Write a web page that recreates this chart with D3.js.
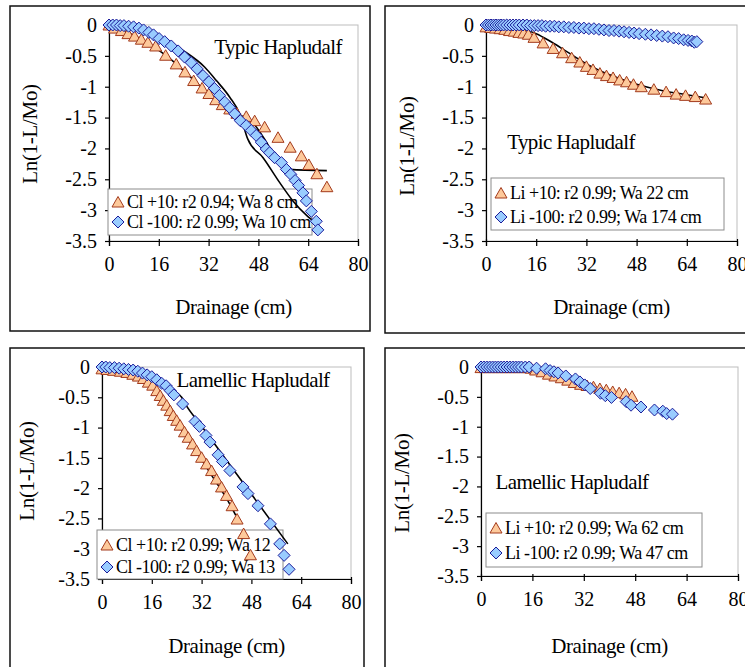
<!DOCTYPE html>
<html>
<head>
<meta charset="utf-8">
<script src="https://cdn.jsdelivr.net/npm/d3@7"></script>
<style>
  body { margin: 0; background: #fff; }
  svg { display: block; font-family: "Liberation Serif", "Times New Roman", serif; }
</style>
</head>
<body>
<svg id="chart" width="745" height="667"></svg>
<script>
// ---- data: [drainage cm, ln(1-L/Mo)] ----
var xTicks = [0, 16, 32, 48, 64, 80];
var yTicks = [0, -0.5, -1, -1.5, -2, -2.5, -3, -3.5];

// Typic Hapludalf, Cl
var typicCl10 = [[0,0],[1.8,-0.05],[4,-0.09],[6.1,-0.14],[8.2,-0.18],[10.4,-0.23],[12.5,-0.28],[15,-0.34],
  [18.2,-0.49],[21.6,-0.63],[24.4,-0.76],[27.2,-0.9],[29.9,-1.02],[32.1,-1.11],[34.3,-1.21],[36.4,-1.29],
  [38.8,-1.36],[41.1,-1.43],[44.1,-1.48],[46.8,-1.55],[50,-1.65],[54.3,-1.82],[58.2,-1.98],[61.8,-2.12],
  [64.2,-2.26],[66.8,-2.41],[70,-2.62]];
var typicCl100 = [[0,0],[1.2,0],[2.4,0],[3.6,-0.01],[4.8,-0.01],[6.3,-0.02],[7.9,-0.03],[9.6,-0.05],[11.1,-0.08],
  [12.8,-0.12],[14.3,-0.16],[16.1,-0.22],[17.9,-0.27],[20,-0.34],[22.2,-0.42],[24.3,-0.52],[26.4,-0.61],
  [28.3,-0.71],[30.2,-0.82],[32.1,-0.92],[33.9,-1.03],[35.5,-1.14],[37.2,-1.25],[38.8,-1.34],[40.4,-1.44],
  [42.2,-1.55],[44.1,-1.63],[45.7,-1.71],[47.3,-1.79],[48.9,-1.9],[50.5,-2.01],[51.6,-2.07],[53.2,-2.15],
  [55.4,-2.23],[57,-2.34],[58.4,-2.42],[59.8,-2.52],[60.9,-2.6],[62.3,-2.72],[63.4,-2.85],[65,-3.02],
  [66.6,-3.18],[67.1,-3.32]];
var typicCl10Fit = [[0,0],[10.4,-0.23],[18.2,-0.49],[24.4,-0.76],[29.9,-1.02],[36.4,-1.29],[41.1,-1.43],
  [46.8,-1.62],[50,-1.85],[53,-2.1],[56,-2.28],[58,-2.34],[70,-2.36]];
var typicCl100Fit = [[0,0],[8,-0.04],[16,-0.19],[24,-0.42],[30.7,-0.68],[34.5,-0.9],[38.8,-1.17],[42,-1.44],
  [44.6,-1.85],[49.5,-2.15],[54.8,-2.55],[59.1,-2.85],[63.4,-3.08],[67.1,-3.23]];

// Typic Hapludalf, Li
var typicLi10 = [[0,-0.03],[1.5,-0.04],[3,-0.05],[4.5,-0.06],[6,-0.07],[7.5,-0.09],[9,-0.1],[10.5,-0.12],
  [12,-0.13],[13.5,-0.15],[15.3,-0.2],[18.2,-0.29],[21.4,-0.38],[24.4,-0.45],[27.3,-0.53],[29.9,-0.6],
  [32,-0.67],[34.1,-0.72],[36.3,-0.78],[38.4,-0.82],[40.5,-0.85],[42.6,-0.89],[44.8,-0.92],[47,-0.96],
  [49.5,-1.0],[53.5,-1.04],[57.4,-1.08],[60.6,-1.12],[63.6,-1.14],[66.7,-1.16],[70,-1.2]];
var typicLi100 = [[0,0],[0.8,0],[1.6,0],[2.4,0],[3.2,0],[4,0],[4.8,0],[5.6,0],[6.6,0],[7.6,0],[8.6,0],[9.6,0],
  [10.6,0],[11.8,0],[13,0],[14.2,-0.01],[15.4,-0.01],[16.6,-0.01],[17.8,-0.01],[19,-0.02],[20.4,-0.02],
  [21.8,-0.02],[23.2,-0.03],[24.8,-0.03],[26.4,-0.04],[28,-0.04],[29.6,-0.05],[31.2,-0.05],[32.8,-0.06],
  [34.4,-0.06],[36,-0.07],[37.6,-0.08],[39.2,-0.09],[40.8,-0.09],[42.4,-0.1],[44,-0.11],[45.6,-0.12],
  [47.2,-0.13],[48.8,-0.14],[50.8,-0.15],[52.6,-0.16],[54.4,-0.17],[56.2,-0.18],[58,-0.19],[59.8,-0.21],
  [61.4,-0.22],[63,-0.24],[64.4,-0.25],[65.6,-0.26],[66.4,-0.28],[67.2,-0.27]];
var typicLi10Fit = [[0,-0.01],[10,-0.06],[16,-0.14],[21,-0.28],[26,-0.44],[32,-0.63],[40,-0.82],[48,-0.96],
  [56,-1.06],[64,-1.13],[70,-1.18]];

// Lamellic Hapludalf, Cl
var lamCl10 = [[0,-0.03],[1.6,-0.04],[3.7,-0.055],[5.9,-0.07],[8,-0.09],[9.9,-0.12],[11.7,-0.15],[13.3,-0.19],
  [14.9,-0.25],[16.3,-0.3],[17.6,-0.39],[18.7,-0.47],[19.7,-0.55],[20.8,-0.63],[21.9,-0.72],[22.9,-0.8],
  [24,-0.88],[25.1,-0.96],[26.5,-1.07],[27.7,-1.16],[29.1,-1.27],[30.4,-1.38],[32,-1.49],[33.6,-1.6],
  [35.2,-1.71],[36.8,-1.85],[38.4,-1.98],[40,-2.12],[41.8,-2.29],[43.4,-2.51],[45.5,-2.75],[47.7,-3.1]];
var lamCl100 = [[0,0],[1.2,0],[2.5,-0.01],[4,-0.01],[5.5,-0.02],[7,-0.03],[8.5,-0.04],[10,-0.05],[11.5,-0.07],
  [13,-0.1],[14.5,-0.13],[16,-0.16],[17.6,-0.21],[19.2,-0.27],[20.6,-0.31],[21.9,-0.39],[23.1,-0.46],
  [25.9,-0.61],[29.9,-0.9],[31.3,-0.98],[33.4,-1.13],[34.7,-1.24],[37.3,-1.45],[38.7,-1.56],[41.1,-1.71],
  [45.3,-1.98],[46.9,-2.09],[50.1,-2.29],[54.1,-2.59],[57.1,-2.92],[58.5,-3.11],[60.1,-3.34]];
var lamCl10Fit = [[0,-0.03],[10,-0.1],[16,-0.3],[20,-0.6],[24,-0.92],[28,-1.22],[32,-1.53],[36,-1.85],
  [40,-2.17],[43,-2.45]];
var lamCl100Fit = [[0,0],[10,-0.04],[16,-0.12],[18.7,-0.26],[22,-0.37],[25.6,-0.5],[27,-0.63],[31.5,-0.94],
  [40,-1.54],[50,-2.24],[59.7,-2.92]];

// Lamellic Hapludalf, Li
var lamLi10 = [[0,-0.01],[1.3,-0.01],[2.6,-0.01],[3.9,-0.01],[5.2,-0.01],[6.5,-0.01],[7.8,-0.01],[9.1,-0.01],
  [10.4,-0.01],[11.7,-0.01],[13,-0.01],[14.3,-0.01],[15.6,-0.02],[17,-0.05],[19,-0.08],[21,-0.12],
  [23,-0.15],[25,-0.18],[27,-0.22],[29,-0.26],[31,-0.29],[33,-0.31],[35,-0.33],[37,-0.36],[39,-0.38],
  [41,-0.41],[43,-0.43],[45,-0.45],[47,-0.49]];
var lamLi100 = [[0,0],[0.9,0],[1.8,0],[2.7,0],[3.6,0],[4.5,0],[5.4,0],[6.3,0],[7.2,0],[8.1,0],[9,0],[9.9,0],
  [10.8,0],[11.7,0],[12.6,0],[13.8,0],[15,0],[17.3,-0.02],[20.1,-0.03],[21.5,-0.06],[22.7,-0.08],
  [24,-0.1],[26.4,-0.15],[29.4,-0.2],[30.8,-0.25],[32.3,-0.3],[34,-0.36],[37.2,-0.44],[38.7,-0.48],
  [40.6,-0.51],[45.2,-0.58],[46.7,-0.64],[49.8,-0.67],[54,-0.72],[56.6,-0.74],[57.8,-0.78],[59.6,-0.79]];

var panels = [
  {frame: [10, 6, 360, 325], plot: [109, 358, 25, 241],
   title: "Typic Hapludalf", titlePos: [278, 54],
   legendBox: [108, 189, 204, 46], legendRows: [13, 33],
   labels: ["Cl +10: r2 0.94; Wa 8 cm", "Cl -100: r2 0.99; Wa 10 cm"],
   yTitle: [30, 134], xTitleY: 314,
   tri: typicCl10, dia: typicCl100, fits: [typicCl10Fit, typicCl100Fit]},
  {frame: [385, 6, 380, 327], plot: [486, 737, 25, 241],
   title: "Typic Hapludalf", titlePos: [571, 149],
   legendBox: [491, 178, 233, 52], legendRows: [15, 39],
   labels: ["Li +10: r2 0.99; Wa 22 cm", "Li -100: r2 0.99; Wa 174 cm"],
   yTitle: [407, 146], xTitleY: 314,
   tri: typicLi10, dia: typicLi100, fits: [typicLi10Fit]},
  {frame: [10, 348, 354, 340], plot: [102, 351, 367, 579],
   title: "Lamellic Hapludalf", titlePos: [253, 387],
   legendBox: [97, 530, 186, 49], legendRows: [15, 37],
   labels: ["Cl +10: r2 0.99; Wa 12", "Cl -100: r2 0.99; Wa 13"],
   yTitle: [27, 471], xTitleY: 653,
   tri: lamCl10, dia: lamCl100, fits: [lamCl10Fit, lamCl100Fit]},
  {frame: [385, 348, 380, 340], plot: [481, 738, 367, 576],
   title: "Lamellic Hapludalf", titlePos: [572, 489],
   legendBox: [486, 513, 216, 54], legendRows: [15, 40],
   labels: ["Li +10: r2 0.99; Wa 62 cm", "Li -100: r2 0.99; Wa 47 cm"],
   yTitle: [402, 483], xTitleY: 653,
   tri: lamLi10, dia: lamLi100, fits: []}
];

var svg = d3.select("#chart");
var triPath = "M0,-5.5L6,5L-6,5Z";
var diaPath = "M0,-6L6,0L0,6L-6,0Z";
var triFill = "#fdc99b", triStroke = "#a33a1c";
var diaFill = "#99ccff", diaStroke = "#1c1c9a";

panels.forEach(function(p) {
  var g = svg.append("g");
  // outer frame
  g.append("rect")
    .attr("x", p.frame[0]).attr("y", p.frame[1])
    .attr("width", p.frame[2]).attr("height", p.frame[3])
    .attr("fill", "none").attr("stroke", "#111").attr("stroke-width", 1.5);

  var x = d3.scaleLinear().domain([0, 80]).range([p.plot[0], p.plot[1]]);
  var y = d3.scaleLinear().domain([0, -3.5]).range([p.plot[2], p.plot[3]]);

  // plot area border (grey)
  g.append("rect")
    .attr("x", p.plot[0]).attr("y", p.plot[2])
    .attr("width", p.plot[1] - p.plot[0]).attr("height", p.plot[3] - p.plot[2])
    .attr("fill", "none").attr("stroke", "#bdbdbd").attr("stroke-width", 1);

  // axes
  var xAxis = g.append("g").attr("transform", "translate(0," + p.plot[3] + ")")
    .call(d3.axisBottom(x).tickValues(xTicks).tickSize(5).tickPadding(11));
  var yAxis = g.append("g").attr("transform", "translate(" + p.plot[0] + ",0)")
    .call(d3.axisLeft(y).tickValues(yTicks).tickSize(4).tickPadding(8)
      .tickFormat(function(d) { return d === 0 ? "0" : String(d); }));
  [xAxis, yAxis].forEach(function(a) {
    a.select(".domain").attr("stroke", "#000").attr("stroke-width", 1.2);
    a.selectAll(".tick line").attr("stroke", "#000").attr("stroke-width", 1.2);
    a.selectAll("text").attr("font-family", "Liberation Serif").attr("font-size", 20).attr("fill", "#000");
  });
  xAxis.selectAll(".tick line").attr("y1", -2);

  // axis titles
  g.append("text")
    .attr("x", (p.plot[0] + p.plot[1]) / 2).attr("y", p.xTitleY)
    .attr("text-anchor", "middle").attr("font-size", 21).attr("letter-spacing", -0.4).text("Drainage (cm)");
  g.append("text")
    .attr("transform", "translate(" + p.yTitle[0] + "," + p.yTitle[1] + ") rotate(-90)")
    .attr("text-anchor", "middle").attr("dominant-baseline", "central")
    .attr("font-size", 21).attr("letter-spacing", -0.3).text("Ln(1-L/Mo)");

  // soil label
  g.append("text")
    .attr("x", p.titlePos[0]).attr("y", p.titlePos[1])
    .attr("text-anchor", "middle").attr("font-size", 21).attr("letter-spacing", -0.6)
    .text(p.title);

  // legend (under the markers)
  var lb = p.legendBox;
  var leg = g.append("g").attr("transform", "translate(" + lb[0] + "," + lb[1] + ")");
  leg.append("rect").attr("width", lb[2]).attr("height", lb[3])
    .attr("fill", "#fff").attr("stroke", "#8c8c8c").attr("stroke-width", 1);
  [[triPath, triFill, triStroke], [diaPath, diaFill, diaStroke]].forEach(function(m, i) {
    leg.append("path").attr("d", m[0])
      .attr("transform", "translate(10," + p.legendRows[i] + ")")
      .attr("fill", m[1]).attr("stroke", m[2]).attr("stroke-width", 1);
    leg.append("text").attr("x", 19).attr("y", p.legendRows[i])
      .attr("dominant-baseline", "central").attr("font-size", 18).attr("letter-spacing", -0.5)
      .text(p.labels[i]);
  });

  // fitted curves, drawn beneath the markers
  var line = d3.line().x(function(d) { return x(d[0]); }).y(function(d) { return y(d[1]); })
    .curve(d3.curveMonotoneX);
  p.fits.forEach(function(f) {
    g.append("path").datum(f).attr("d", line)
      .attr("fill", "none").attr("stroke", "#000").attr("stroke-width", 1.6);
  });

  // markers
  g.append("g").selectAll("path").data(p.tri).enter().append("path")
    .attr("d", triPath)
    .attr("transform", function(d) { return "translate(" + x(d[0]) + "," + y(d[1]) + ")"; })
    .attr("fill", triFill).attr("stroke", triStroke).attr("stroke-width", 1);
  g.append("g").selectAll("path").data(p.dia).enter().append("path")
    .attr("d", diaPath)
    .attr("transform", function(d) { return "translate(" + x(d[0]) + "," + y(d[1]) + ")"; })
    .attr("fill", diaFill).attr("stroke", diaStroke).attr("stroke-width", 1);
});
</script>
</body>
</html>
